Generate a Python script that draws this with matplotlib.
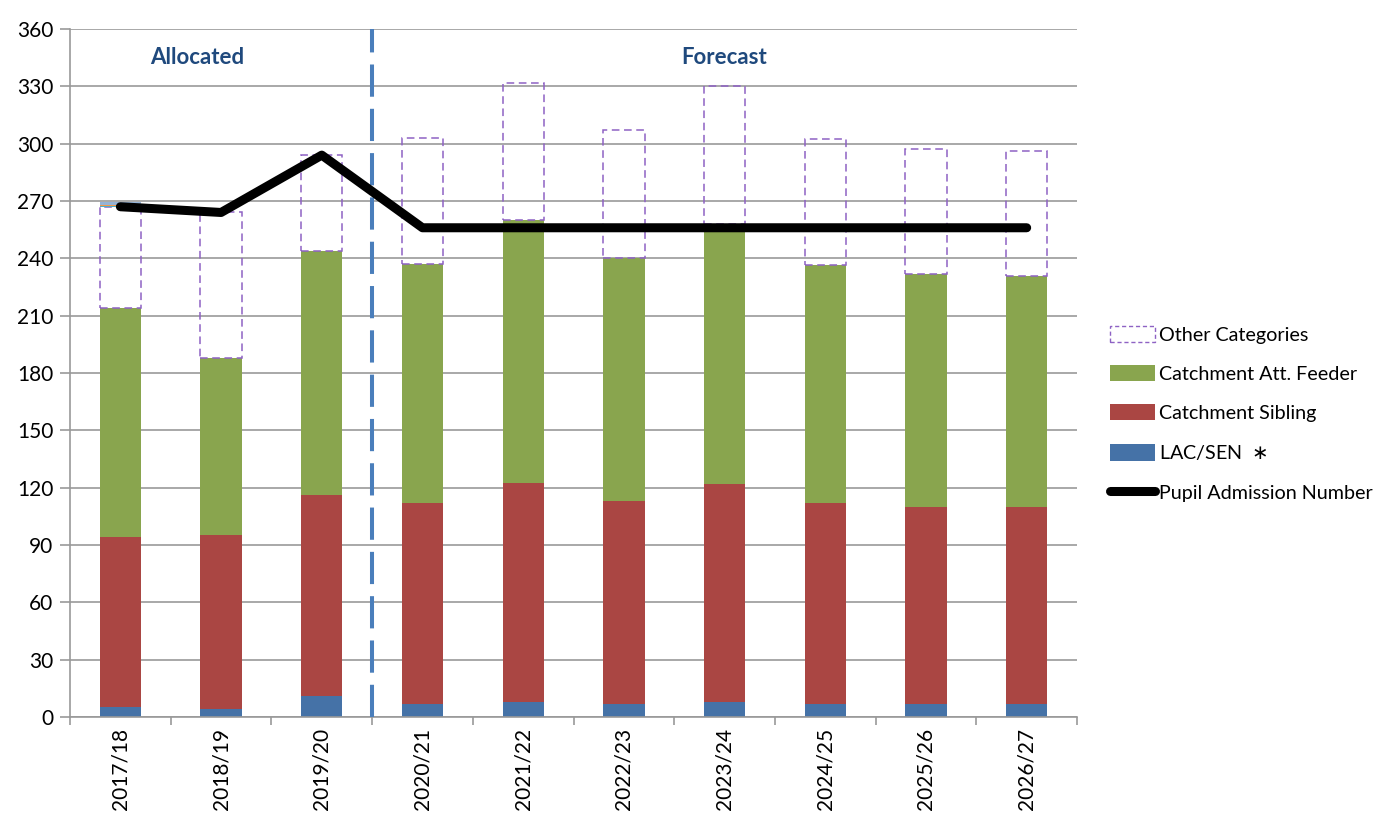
import matplotlib.pyplot as plt
import numpy as np
from matplotlib.lines import Line2D
from matplotlib.patches import Patch

plt.rcParams["font.family"] = ["Lato", "DejaVu Sans"]

YEARS = ["2017/18", "2018/19", "2019/20", "2020/21", "2021/22",
         "2022/23", "2023/24", "2024/25", "2025/26", "2026/27"]

lac_sen = [5, 4, 11, 7, 8, 7, 8, 7, 7, 7]
sibling = [89, 91, 105, 105, 114.5, 106, 114, 105, 103, 103]
feeder = [120, 93, 128, 125, 137.5, 127, 136, 124.5, 122, 121]
other = [53, 76, 50, 66, 72, 67, 72, 66, 65, 65]
# tiny slivers sitting on top of the first bar
extra_teal = [0.5, 0, 0, 0, 0, 0, 0, 0, 0, 0]
extra_orange = [0.5, 0, 0, 0, 0, 0, 0, 0, 0, 0]
extra_light = [1.5, 0, 0, 0, 0, 0, 0, 0, 0, 0]
pan = [267, 264, 294, 256, 256, 256, 256, 256, 256, 256]

C_BLUE = "#4572a7"
C_RED = "#aa4643"
C_GREEN = "#89a54e"
C_PURPLE = "#8e62c4"

fig = plt.figure(figsize=(13.89, 8.19), dpi=100)
ax = fig.add_axes([0.0504, 0.1245, 0.7250, 0.8401])

x = np.arange(len(YEARS))
w = 0.41
bottom = np.zeros(len(YEARS))
ax.bar(x, lac_sen, w, bottom=bottom, color=C_BLUE, zorder=2)
bottom += lac_sen
ax.bar(x, sibling, w, bottom=bottom, color=C_RED, zorder=2)
bottom += sibling
ax.bar(x, feeder, w, bottom=bottom, color=C_GREEN, zorder=2)
bottom += feeder
ax.bar(x, other, w, bottom=bottom, facecolor="none", edgecolor=C_PURPLE,
       linestyle=(0, (5, 3)), linewidth=1.1, zorder=2)
bottom += other
ax.bar(x, extra_teal, w, bottom=bottom, color="#4bacc6", zorder=2)
bottom += extra_teal
ax.bar(x, extra_orange, w, bottom=bottom, color="#f79646", zorder=2)
bottom += extra_orange
ax.bar(x, extra_light, w, bottom=bottom, color="#95b3d7", zorder=2)

ax.plot(x, pan, color="black", linewidth=6.5, solid_capstyle="round", zorder=4)

# split between allocated and forecast years
ax.axvline(2.5, color="#4a7ebb", linewidth=2.9, linestyle=(0, (8, 3)), zorder=3)
ax.text(0.76, 345, "Allocated", color="#1f497d", fontsize=16, fontweight="bold",
        ha="center", va="center")
ax.text(6.0, 345, "Forecast", color="#1f497d", fontsize=16, fontweight="bold",
        ha="center", va="center")

ax.set_xlim(-0.5, 9.5)
ax.set_ylim(0, 360)
ax.set_yticks(np.arange(0, 361, 30))
ax.yaxis.grid(True, color="#999999", linewidth=1.2, zorder=0)
ax.set_axisbelow(True)
for s in ["top", "right"]:
    ax.spines[s].set_visible(False)
for s in ["left", "bottom"]:
    ax.spines[s].set_color("#999999")
    ax.spines[s].set_linewidth(1.2)

ax.set_xticks(x)
ax.set_xticklabels(YEARS, rotation=90, fontsize=15)
ax.tick_params(axis="x", length=0, pad=8)
ax.set_xticks(np.arange(-0.5, 10, 1), minor=True)
ax.tick_params(axis="x", which="minor", length=6, color="#999999", width=1.2)
ax.tick_params(axis="y", labelsize=15, length=7, color="#999999", width=1.2, pad=5)

handles = [
    Patch(facecolor="none", edgecolor=C_PURPLE, linestyle=(0, (3, 2)), linewidth=1),
    Patch(facecolor=C_GREEN),
    Patch(facecolor=C_RED),
    Patch(facecolor=C_BLUE),
    Line2D([0], [0], color="black", linewidth=6.5, solid_capstyle="round"),
]
labels = ["Other Categories", "Catchment Att. Feeder", "Catchment Sibling",
          "LAC/SEN  $\\ast$", "Pupil Admission Number"]
fig.legend(handles, labels, loc="center left", bbox_to_anchor=(0.786, 0.495),
           frameon=False, fontsize=14.2, labelspacing=1.08, handlelength=2.3,
           handletextpad=0.2, handleheight=0.9)

plt.savefig("out.png")
